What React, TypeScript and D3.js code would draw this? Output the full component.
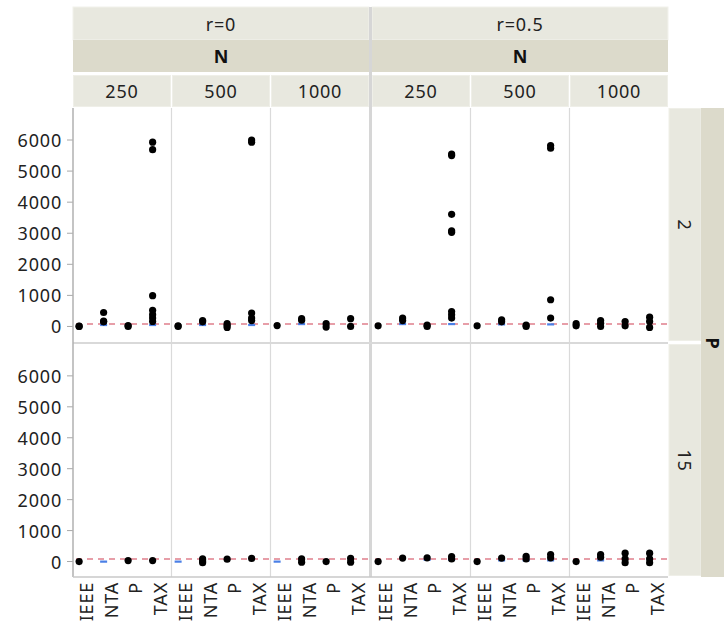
import React from "react";
import * as d3 from "d3";

const rLevels = ["r=0", "r=0.5"];
const nLevels = ["250", "500", "1000"];
const pLevels = ["2", "15"];
const methods = ["IEEE", "NTA", "P", "TAX"];
const yTicks = [0, 1000, 2000, 3000, 4000, 5000, 6000];
const refValue = 80;

// [r, N, method, values]
const dotsP2: [string, string, string, number[]][] = [
  ["r=0", "250", "IEEE", [0, 10]],
  ["r=0", "250", "NTA", [450, 170, 150]],
  ["r=0", "250", "P", [0, 30]],
  ["r=0", "250", "TAX", [5930, 5690, 990, 520, 380, 270, 160]],
  ["r=0", "500", "IEEE", [0, 20]],
  ["r=0", "500", "NTA", [190, 150]],
  ["r=0", "500", "P", [90, 30, -30]],
  ["r=0", "500", "TAX", [6000, 5930, 430, 270, 190]],
  ["r=0", "1000", "IEEE", [30]],
  ["r=0", "1000", "NTA", [250, 200]],
  ["r=0", "1000", "P", [90, -20]],
  ["r=0", "1000", "TAX", [250, 0]],
  ["r=0.5", "250", "IEEE", [20]],
  ["r=0.5", "250", "NTA", [270, 190]],
  ["r=0.5", "250", "P", [40, 0]],
  ["r=0.5", "250", "TAX", [5550, 5500, 3610, 3080, 3030, 480, 375, 270]],
  ["r=0.5", "500", "IEEE", [20]],
  ["r=0.5", "500", "NTA", [215, 150]],
  ["r=0.5", "500", "P", [40, 0]],
  ["r=0.5", "500", "TAX", [5820, 5735, 860, 270]],
  ["r=0.5", "1000", "IEEE", [90, 20]],
  ["r=0.5", "1000", "NTA", [190, 100, 0]],
  ["r=0.5", "1000", "P", [160, 20]],
  ["r=0.5", "1000", "TAX", [300, 160, -30]],
];

const dotsP15: [string, string, string, number[]][] = [
  ["r=0", "250", "IEEE", [0]],
  ["r=0", "250", "P", [30]],
  ["r=0", "250", "TAX", [30]],
  ["r=0", "500", "NTA", [85, -40, 20]],
  ["r=0", "500", "P", [75]],
  ["r=0", "500", "TAX", [100]],
  ["r=0", "1000", "NTA", [85, -20]],
  ["r=0", "1000", "P", [0]],
  ["r=0", "1000", "TAX", [100, -20]],
  ["r=0.5", "250", "IEEE", [0]],
  ["r=0.5", "250", "NTA", [110]],
  ["r=0.5", "250", "P", [120]],
  ["r=0.5", "250", "TAX", [160, 85]],
  ["r=0.5", "500", "IEEE", [0]],
  ["r=0.5", "500", "NTA", [110]],
  ["r=0.5", "500", "P", [170, 85]],
  ["r=0.5", "500", "TAX", [225, 120]],
  ["r=0.5", "1000", "IEEE", [0]],
  ["r=0.5", "1000", "NTA", [225, 140]],
  ["r=0.5", "1000", "P", [270, 85, -40]],
  ["r=0.5", "1000", "TAX", [270, 85, -40]],
];

// [r, N, method, value]
const blueP2: [string, string, string, number][] = [
  ["r=0", "250", "NTA", 50],
  ["r=0", "250", "TAX", 50],
  ["r=0", "500", "NTA", 50],
  ["r=0", "500", "TAX", 50],
  ["r=0", "1000", "NTA", 80],
  ["r=0.5", "250", "NTA", 80],
  ["r=0.5", "250", "TAX", 80],
  ["r=0.5", "500", "NTA", 70],
  ["r=0.5", "500", "TAX", 70],
];

const blueP15: [string, string, string, number][] = [
  ["r=0", "250", "NTA", 0],
  ["r=0", "500", "IEEE", 0],
  ["r=0", "1000", "IEEE", 0],
  ["r=0.5", "250", "P", 60],
  ["r=0.5", "250", "TAX", 60],
  ["r=0.5", "500", "NTA", 40],
  ["r=0.5", "500", "P", 40],
  ["r=0.5", "500", "TAX", 40],
  ["r=0.5", "1000", "NTA", 40],
];

const W = 724;
const H = 621;
const FONT = "'Noto Sans', 'Open Sans', sans-serif";
const FS = 18;
const LS = 0.8;
const LIGHT = "#e8e8df";
const DARK = "#dcdacb";
const plotLeft = 73;
const groupW = 296;
const groupGap = 3;
const panelW = 98;
const panelGap = 1;
const rowTops = [108, 344];
const rowBottoms = [342, 577];
const plotRight = plotLeft + 2 * groupW + groupGap; // 668

function panelX(ri: number, ni: number) {
  return plotLeft + ri * (groupW + groupGap) + ni * (panelW + panelGap);
}

export default function App() {
  const yScales = rowTops.map((t, i) =>
    d3.scaleLinear().domain([-500, 7030]).range([rowBottoms[i], t])
  );
  const band = d3.scaleBand().domain(methods).range([0, panelW]).padding(0);
  const bw = band.bandwidth();
  const markX = (m: string) => (band(m) as number) + bw * 0.25;
  const labelX = (m: string) => (band(m) as number) + bw / 2;
  const dotSets = [dotsP2, dotsP15];
  const blueSets = [blueP2, blueP15];

  const els: React.ReactNode[] = [];

  rLevels.forEach((r, ri) => {
    const gx = plotLeft + ri * (groupW + groupGap);
    els.push(
      <g key={"rh" + ri}>
        <rect x={gx} y={7} width={groupW} height={33} fill={LIGHT} stroke="#f2f2ec" strokeWidth={1} />
        <text x={gx + groupW / 2} y={24} textAnchor="middle" dominantBaseline="central" fontSize={FS} letterSpacing={LS} fill="#222">{r}</text>
        <rect x={gx} y={40} width={groupW} height={32} fill={DARK} />
        <text x={gx + groupW / 2} y={56} textAnchor="middle" dominantBaseline="central" fontSize={FS} fontWeight="bold" fill="#111">N</text>
      </g>
    );
    nLevels.forEach((n, ni) => {
      const px = panelX(ri, ni);
      els.push(
        <g key={"nh" + ri + ni}>
          <rect x={px + 0.5} y={75.5} width={panelW - 1} height={31} fill={LIGHT} stroke="#efefe8" strokeWidth={1} />
          <text x={px + panelW / 2} y={91} textAnchor="middle" dominantBaseline="central" fontSize={FS} letterSpacing={LS} fill="#222">{n}</text>
        </g>
      );
    });
  });

  pLevels.forEach((p, pi) => {
    const ys = yScales[pi];
    const top = rowTops[pi];
    const bottom = rowBottoms[pi];
    rLevels.forEach((r, ri) => {
      nLevels.forEach((n, ni) => {
        const px = panelX(ri, ni);
        els.push(
          <rect key={`bg${pi}${ri}${ni}`} x={px} y={top} width={panelW} height={bottom - top} fill="#fff" />
        );
        els.push(
          <line key={`ref${pi}${ri}${ni}`} x1={px} x2={px + panelW} y1={ys(refValue)} y2={ys(refValue)}
            stroke="#e07f8c" strokeWidth={1.6} strokeDasharray="6,5" strokeDashoffset={-3} />
        );
        blueSets[pi]
          .filter((b) => b[0] === r && b[1] === n)
          .forEach((b, k) => {
            els.push(
              <rect key={`bl${pi}${ri}${ni}${k}`} x={px + markX(b[2]) - 3.5} y={ys(b[3]) - 1} width={7} height={2.2} fill="#4a7fe6" />
            );
          });
        dotSets[pi]
          .filter((d) => d[0] === r && d[1] === n)
          .forEach((d, k) => {
            d[3].forEach((v, j) => {
              els.push(
                <circle key={`dt${pi}${ri}${ni}${k}_${j}`} cx={px + markX(d[2])} cy={ys(v)} r={3.6} fill="#000" />
              );
            });
          });
      });
    });
    els.push(
      <g key={"ya" + pi}>
        {yTicks.map((t) => (
          <g key={t}>
            <line x1={plotLeft - 6} x2={plotLeft} y1={ys(t)} y2={ys(t)} stroke="#a8a8a8" strokeWidth={1} />
            <text x={plotLeft - 11} y={ys(t)} textAnchor="end" dominantBaseline="central" fontSize={FS} letterSpacing={LS} fill="#222">{t}</text>
          </g>
        ))}
      </g>
    );
    els.push(
      <g key={"ps" + pi}>
        <rect x={plotRight + 1} y={top + 0.5} width={32} height={bottom - top - 2} fill={LIGHT} stroke="#efefe8" strokeWidth={1} />
        <text transform={`translate(${plotRight + 17},${(top + bottom) / 2}) rotate(90)`} textAnchor="middle" dominantBaseline="central" fontSize={FS} letterSpacing={LS} fill="#222">{p}</text>
      </g>
    );
  });

  els.push(
    <g key="pband">
      <rect x={plotRight + 33} y={rowTops[0]} width={W - plotRight - 33} height={rowBottoms[1] - rowTops[0]} fill={DARK} />
      <text transform={`translate(${plotRight + 45},${343}) rotate(90)`} textAnchor="middle" dominantBaseline="central" fontSize={FS} fontWeight="bold" fill="#111">P</text>
    </g>
  );

  rLevels.forEach((r, ri) => {
    nLevels.forEach((n, ni) => {
      if (ni > 0) {
        const px = panelX(ri, ni) - 0.5;
        els.push(<line key={`vs${ri}${ni}`} x1={px} x2={px} y1={rowTops[0]} y2={rowBottoms[1]} stroke="#dadada" strokeWidth={1.2} />);
      }
    });
  });
  els.push(
    <rect key="gsep" x={plotLeft + groupW} y={7} width={groupGap} height={rowBottoms[1] - 7} fill="#d6d6d6" />
  );
  els.push(
    <rect key="hsep" x={plotLeft} y={rowBottoms[0]} width={plotRight - plotLeft} height={2} fill="#d9d9d9" />
  );
  els.push(<line key="yl" x1={plotLeft} x2={plotLeft} y1={rowTops[0]} y2={rowBottoms[1]} stroke="#b0b0b0" strokeWidth={1.5} />);
  els.push(<line key="xl" x1={plotLeft} x2={plotRight} y1={rowBottoms[1]} y2={rowBottoms[1]} stroke="#c8c8c8" strokeWidth={1.5} />);

  rLevels.forEach((r, ri) => {
    nLevels.forEach((n, ni) => {
      const px = panelX(ri, ni);
      methods.forEach((m) => {
        els.push(
          <text key={`xl${ri}${ni}${m}`} transform={`translate(${px + labelX(m) + 1},${rowBottoms[1] + 5}) rotate(-90)`}
            textAnchor="end" dominantBaseline="central" fontSize={FS} letterSpacing={LS} fill="#222">{m}</text>
        );
      });
    });
  });

  return (
    <svg width={W} height={H} style={{ position: "absolute", left: 0, top: 0, fontFamily: FONT, background: "#fff" }}>
      {els}
    </svg>
  );
}
